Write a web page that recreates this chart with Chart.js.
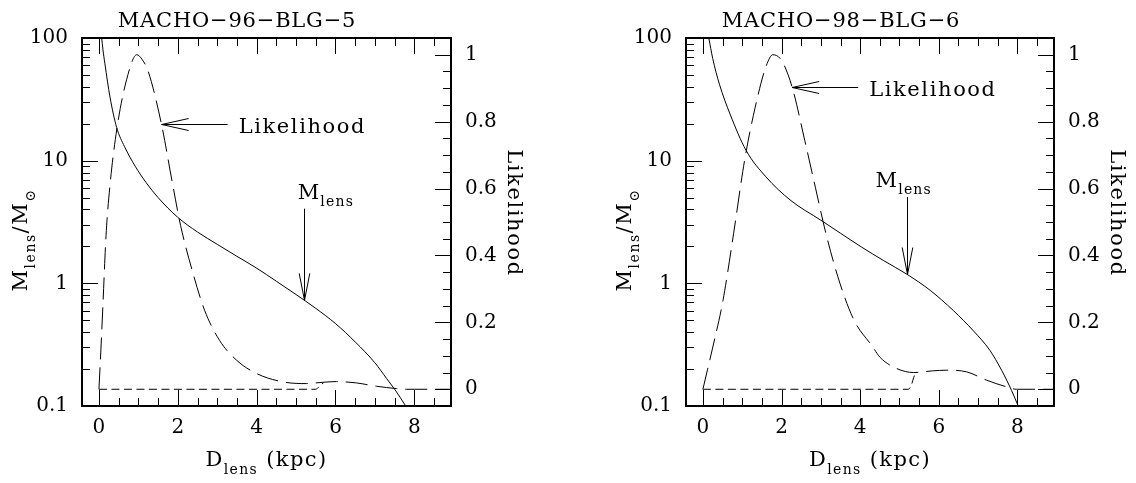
<!DOCTYPE html>
<html>
<head>
<meta charset="utf-8">
<script src="https://cdn.jsdelivr.net/npm/chart.js@4.4.1/dist/chart.umd.min.js"></script>
<style>
  html, body { margin: 0; padding: 0; background: #fff; }
  #wrap { position: relative; width: 1136px; height: 483px; background: #fff; }
  canvas { position: absolute; top: 0; }
</style>
</head>
<body>
<div id="wrap">
  <canvas id="c1" width="568" height="483" style="left:0px"></canvas>
  <canvas id="c2" width="568" height="483" style="left:568px"></canvas>
</div>
<script>
// ---------------- data ----------------
const X_TICKS = [0, 2, 4, 6, 8];
const X_TICK_LABELS = ['0', '2', '4', '6', '8'];
const M_TICKS = [0.1, 1, 10, 100];
const M_TICK_LABELS = ['0.1', '1', '10', '100'];
const L_TICKS = [0, 0.2, 0.4, 0.6, 0.8, 1];
const L_TICK_LABELS = ['0', '0.2', '0.4', '0.6', '0.8', '1'];

const EVENT_NAMES = ['MACHO-96-BLG-5', 'MACHO-98-BLG-6'];

// MACHO-96-BLG-5
const D_MASS_96 = [0.07, 0.1, 0.15, 0.28, 0.45, 0.65, 0.92, 1.2, 1.5, 2.0, 2.5, 3.0, 3.5, 4.0, 4.5, 5.0, 5.5, 6.0, 6.5, 7.0, 7.3, 7.55, 7.78];
const M_LENS_96 = [100, 81, 62, 33, 18.6, 13, 9.0, 6.6, 5.0, 3.45, 2.62, 2.08, 1.66, 1.33, 1.04, 0.81, 0.625, 0.47, 0.333, 0.225, 0.167, 0.13, 0.1];
const D_LIKE_96 = [0, 0.05, 0.1, 0.18, 0.28, 0.45, 0.7, 0.96, 1.1, 1.25, 1.59, 1.85, 2.07, 2.39, 2.68, 3.06, 3.49, 4.0, 4.67, 5.26, 5.69, 6.03, 6.53, 7.04, 7.55, 7.8, 8.93];
const LIKE_96 = [0, 0.12, 0.25, 0.46, 0.61, 0.775, 0.925, 1.0, 0.985, 0.95, 0.79, 0.625, 0.49, 0.345, 0.236, 0.146, 0.087, 0.047, 0.022, 0.017, 0.021, 0.023, 0.019, 0.009, 0.002, 0, 0];
const D_LIKE2_96 = [0, 5.5, 5.6, 5.7];
const LIKE2_96 = [0, 0, 0.01, 0.02];

// MACHO-98-BLG-6
const D_MASS_98 = [0.15, 0.25, 0.42, 0.69, 1.1, 1.6, 2.23, 3.0, 3.5, 4.03, 4.6, 5.2, 5.78, 6.37, 6.88, 7.3, 7.6, 7.85, 8.02];
const M_LENS_98 = [100, 68, 42, 24, 12.1, 7.4, 4.75, 3.27, 2.56, 1.98, 1.53, 1.18, 0.877, 0.6, 0.41, 0.284, 0.195, 0.134, 0.1];
const D_LIKE_98 = [0, 0.12, 0.24, 0.51, 0.78, 1.06, 1.33, 1.6, 1.78, 2.0, 2.27, 2.59, 2.86, 3.13, 3.49, 3.85, 4.3, 4.51, 4.93, 5.36, 5.84, 6.2, 6.71, 7.22, 7.73, 7.98, 8.93];
const LIKE_98 = [0, 0.06, 0.12, 0.265, 0.465, 0.684, 0.843, 0.963, 1.0, 0.983, 0.903, 0.744, 0.604, 0.465, 0.315, 0.205, 0.13, 0.095, 0.062, 0.05, 0.055, 0.057, 0.052, 0.027, 0.007, 0, 0];
const D_LIKE2_98 = [0, 5.22, 5.3, 5.36, 5.42];
const LIKE2_98 = [0, 0, 0.012, 0.035, 0.05];

// ---------------- styling / layout ----------------
const INK = '#000';
const FONT = "'DejaVu Serif', 'Liberation Serif', serif";

function xy(ds, vs) { return ds.map((d, i) => ({ x: d, y: vs[i] })); }

function drawRich(ctx, parts, x, y, rot, spacing, align) {
  ctx.save();
  ctx.translate(x, y);
  ctx.rotate(rot);
  ctx.fillStyle = INK;
  ctx.textBaseline = 'alphabetic';
  ctx.textAlign = 'left';
  try { ctx.letterSpacing = spacing + 'px'; } catch (e) {}
  const widths = parts.map(p => { ctx.font = p.size + 'px ' + FONT; return ctx.measureText(p.t).width; });
  const total = widths.reduce((a, b) => a + b, 0);
  let cx = align === 'center' ? -total / 2 : 0;
  parts.forEach((p, i) => {
    ctx.font = p.size + 'px ' + FONT;
    ctx.fillText(p.t, cx, p.dy || 0);
    cx += widths[i];
  });
  ctx.restore();
}

function line(ctx, x1, y1, x2, y2) { ctx.moveTo(x1, y1); ctx.lineTo(x2, y2); }

const decor = {
  id: 'decor',
  afterDraw(chart, args, o) {
    const { ctx, chartArea: a } = chart;
    const xs = chart.scales.x, ms = chart.scales.y, ls = chart.scales.y2;
    ctx.save();
    ctx.setLineDash([]);
    ctx.strokeStyle = INK;

    // inward tick marks
    ctx.lineWidth = 1;
    ctx.beginPath();
    for (let k = Math.ceil(xs.min / 0.5); k * 0.5 <= xs.max; k++) {
      const px = Math.round(xs.getPixelForValue(k * 0.5)) + 0.5;
      const len = (k % 4 === 0) ? 16 : 8;
      line(ctx, px, a.bottom, px, a.bottom - len);
      line(ctx, px, a.top, px, a.top + len);
    }
    for (let e = -1; e <= 2; e++) {
      for (let m = 1; m <= 9; m++) {
        const v = m * Math.pow(10, e);
        if (v <= ms.min * 1.0001 || v >= ms.max * 0.9999) continue;
        const py = Math.round(ms.getPixelForValue(v)) + 0.5;
        line(ctx, a.left, py, a.left + (m === 1 ? 16 : 8), py);
      }
    }
    for (let k = Math.ceil(ls.min / 0.05 - 1e-6); k * 0.05 <= ls.max + 1e-6; k++) {
      const py = Math.round(ls.getPixelForValue(k * 0.05)) + 0.5;
      if (py < a.top + 2 || py > a.bottom - 2) continue;
      line(ctx, a.right, py, a.right - ((k % 4 === 0) ? 16 : 8), py);
    }
    ctx.stroke();

    // frame
    ctx.lineWidth = 2;
    ctx.strokeRect(a.left, a.top, a.right - a.left, a.bottom - a.top);

    // title
    drawRich(ctx, [{ t: o.title.replace(/-/g, '\u2212'), size: 21 }], a.left + 155, 26.7, 0, 0.8, 'center');

    // axis titles
    const cx = (a.left + a.right) / 2, cy = (a.top + a.bottom) / 2;
    drawRich(ctx, [{ t: 'D', size: 21 }, { t: 'lens', size: 14, dy: 8 }, { t: ' (kpc)', size: 21 }],
      cx, a.bottom + 60, 0, 1.4, 'center');
    drawRich(ctx, [{ t: 'M', size: 21 }, { t: 'lens', size: 14, dy: 8 }, { t: '/', size: 21 }, { t: 'M', size: 21 }, { t: '\u2299', size: 14, dy: 8 }],
      a.left - 55.3, cy + 18, -Math.PI / 2, 1.5, 'center');
    drawRich(ctx, [{ t: 'Likelihood', size: 21 }], a.right + 57, cy - 9, Math.PI / 2, 1.6, 'center');

    // Likelihood annotation arrow
    ctx.lineWidth = 1;
    const tx = xs.getPixelForValue(o.likTip[0]), ty = Math.round(ls.getPixelForValue(o.likTip[1])) + 0.5;
    ctx.beginPath();
    line(ctx, tx, ty, tx + 66, ty);
    line(ctx, tx, ty, tx + 27, ty - 6);
    line(ctx, tx, ty, tx + 27, ty + 6);
    ctx.stroke();
    drawRich(ctx, [{ t: 'Likelihood', size: 21 }], tx + 77, ty + 8, 0, 1.6, 'left');

    // M_lens annotation arrow
    const mx = Math.round(xs.getPixelForValue(o.mArrowX)) + 0.5;
    const mTip = ms.getPixelForValue(o.mTip), mTop = ms.getPixelForValue(o.mTop);
    ctx.beginPath();
    line(ctx, mx, mTop, mx, mTip);
    line(ctx, mx, mTip, mx - 5.3, mTip - 27);
    line(ctx, mx, mTip, mx + 5.3, mTip - 27);
    ctx.stroke();
    drawRich(ctx, [{ t: 'M', size: 21 }, { t: 'lens', size: 14, dy: 7 }],
      xs.getPixelForValue(o.mTextX), mTop - 10, 0, 1.2, 'left');

    ctx.restore();
  }
};

function makeChart(id, p) {
  const tickFont = { family: FONT, size: 20 };
  return new Chart(document.getElementById(id), {
    type: 'line',
    data: {
      datasets: [
        { label: 'M_lens', data: xy(p.dMass, p.mass), yAxisID: 'y', borderColor: INK, borderWidth: 1,
          pointRadius: 0, cubicInterpolationMode: 'monotone', fill: false },
        { label: 'Likelihood', data: xy(p.dLike, p.like), yAxisID: 'y2', borderColor: INK, borderWidth: 1,
          borderDash: [22, 8], pointRadius: 0, cubicInterpolationMode: 'monotone', fill: false },
        { label: 'Likelihood (baseline)', data: xy(p.dLike2, p.like2), yAxisID: 'y2', borderColor: INK, borderWidth: 1,
          borderDash: [8, 4.5], pointRadius: 0, cubicInterpolationMode: 'monotone', fill: false }
      ]
    },
    options: {
      responsive: false,
      animation: false,
      layout: { padding: { top: 38, left: 0, right: 0, bottom: 0 } },
      plugins: { legend: { display: false }, tooltip: { enabled: false }, title: { display: false }, decor: p.decor },
      scales: {
        x: {
          type: 'linear', position: 'bottom', min: -0.43, max: 8.93,
          grid: { display: false, drawTicks: false }, border: { display: false },
          afterBuildTicks: s => { s.ticks = X_TICKS.map(v => ({ value: v })); },
          afterFit: s => { s.height = 77; },
          ticks: { autoSkip: false, maxRotation: 0, padding: 10, color: INK, font: tickFont,
                   callback: (v, i) => X_TICK_LABELS[i] }
        },
        y: {
          type: 'logarithmic', position: 'left', min: 0.1, max: 100,
          grid: { display: false, drawTicks: false }, border: { display: false },
          afterBuildTicks: s => { s.ticks = M_TICKS.map(v => ({ value: v })); },
          afterFit: s => { s.width = p.leftW; },
          ticks: { autoSkip: false, padding: 14, color: INK, font: tickFont,
                   callback: (v, i) => M_TICK_LABELS[i] }
        },
        y2: {
          type: 'linear', position: 'right', min: -0.05, max: 1.05,
          grid: { display: false, drawTicks: false }, border: { display: false },
          afterBuildTicks: s => { s.ticks = L_TICKS.map(v => ({ value: v })); },
          afterFit: s => { s.width = p.rightW; },
          ticks: { autoSkip: false, padding: 14, color: INK, font: tickFont,
                   callback: (v, i) => L_TICK_LABELS[i] }
        }
      }
    },
    plugins: [decor]
  });
}

makeChart('c1', {
  dMass: D_MASS_96, mass: M_LENS_96, dLike: D_LIKE_96, like: LIKE_96, dLike2: D_LIKE2_96, like2: LIKE2_96,
  leftW: 82, rightW: 117,
  decor: { title: EVENT_NAMES[0], likTip: [1.59, 0.793], mArrowX: 5.2, mTip: 0.726, mTop: 4.06, mTextX: 5.04 }
});
makeChart('c2', {
  dMass: D_MASS_98, mass: M_LENS_98, dLike: D_LIKE_98, like: LIKE_98, dLike2: D_LIKE2_98, like2: LIKE2_98,
  leftW: 118, rightW: 82,
  decor: { title: EVENT_NAMES[1], likTip: [2.27, 0.903], mArrowX: 5.2, mTip: 1.18, mTop: 5.06, mTextX: 4.39 }
});
</script>
</body>
</html>
